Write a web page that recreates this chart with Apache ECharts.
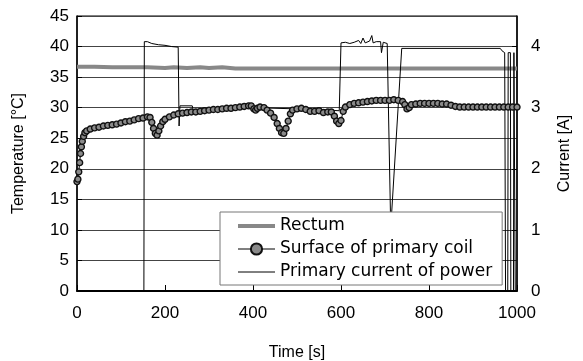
<!DOCTYPE html>
<html>
<head>
<meta charset="utf-8">
<script src="https://cdn.jsdelivr.net/npm/echarts@6/dist/echarts.min.js"></script>
<style>
  html, body { margin: 0; padding: 0; background: #fff; }
  #chart { width: 583px; height: 361px; }
</style>
</head>
<body>
<div id="chart"></div>
<script>
// 直腸温度 [s, °C]
const rectum = [
  [0, 36.7], [40, 36.7], [80, 36.6], [120, 36.6], [160, 36.6], [200, 36.5],
  [220, 36.6], [250, 36.5], [280, 36.6], [300, 36.5], [330, 36.6], [360, 36.4],
  [400, 36.4], [500, 36.4], [600, 36.4], [700, 36.4], [800, 36.4], [900, 36.4], [1000, 36.4]
]

// 一次コイル表面温度 [s, °C]
const coilTime = [
  0, 2, 4, 6, 8, 10, 12, 15, 18, 22, 30, 40, 50, 60, 70, 80, 90, 100, 110, 120,
  130, 140, 150, 160, 166, 170, 174, 178, 182, 186, 190, 195, 200, 210, 220, 230, 240, 250, 260, 270,
  280, 290, 300, 310, 320, 330, 340, 350, 360, 370, 380, 390, 396, 402, 406, 410, 416, 425, 432, 440,
  448, 455, 460, 465, 470, 475, 480, 485, 490, 500, 510, 520, 530, 540, 550, 560, 570, 578, 585, 590,
  595, 600, 605, 610, 620, 630, 640, 650, 660, 670, 680, 690, 700, 710, 720, 730, 740, 745, 750, 755,
  760, 770, 780, 790, 800, 810, 820, 830, 840, 850, 860, 870, 880, 890, 900, 910, 920, 930, 940, 950,
  960, 970, 980, 990, 1000
]
const coilTemp = [
  17.9, 18.3, 19.5, 21.0, 22.5, 23.6, 24.5, 25.3, 25.9, 26.2, 26.5, 26.7, 26.8, 27.0, 27.1, 27.2, 27.3, 27.5, 27.7, 27.8,
  28.0, 28.2, 28.3, 28.5, 28.4, 27.6, 26.6, 25.8, 25.5, 26.2, 27.0, 27.7, 28.1, 28.5, 28.8, 29.0, 29.1, 29.2, 29.3, 29.3,
  29.4, 29.5, 29.6, 29.7, 29.7, 29.8, 29.9, 29.9, 30.0, 30.1, 30.2, 30.3, 30.3, 29.8, 29.6, 29.9, 30.1, 30.0, 29.6, 29.1,
  28.4, 27.4, 26.6, 25.9, 25.8, 26.6, 27.8, 29.0, 29.6, 29.8, 29.9, 29.7, 29.4, 29.4, 29.5, 29.2, 29.3, 29.3, 28.6, 27.8,
  27.4, 27.9, 29.4, 30.1, 30.5, 30.7, 30.8, 30.9, 31.0, 31.1, 31.2, 31.2, 31.2, 31.2, 31.3, 31.2, 31.0, 30.5, 29.8, 30.0,
  30.5, 30.6, 30.7, 30.7, 30.7, 30.7, 30.7, 30.6, 30.6, 30.4, 30.2, 30.1, 30.1, 30.1, 30.1, 30.1, 30.1, 30.1, 30.1, 30.1,
  30.1, 30.1, 30.1, 30.1, 30.1
]

// 電源一次電流 [s, A]
const currentTime = [
  0, 152, 153, 160, 170, 185, 200, 215, 230, 232, 234, 262, 264, 300, 400, 500, 596,
  600, 610, 620, 630, 640, 645, 650, 655, 665, 670, 673, 680, 690, 692, 696, 700, 705,
  713, 738, 800, 900, 962, 966, 972, 974, 979, 980, 985, 986, 992, 993, 995, 996, 1000
]
const currentAmp = [
  0, 0, 4.08, 4.08, 4.05, 4.03, 4.02, 4.0, 3.99, 2.7, 3.03, 3.03, 2.96, 2.96, 3.0, 2.98, 2.95,
  4.06, 4.07, 4.05, 4.07, 4.1, 4.05, 4.14, 4.06, 4.09, 4.18, 4.06, 4.08, 4.08, 3.9, 4.07, 4.08, 4.05,
  1.03, 3.97, 3.97, 3.97, 3.97, 3.93, 3.9, 0, 0, 3.9, 3.9, 0, 0, 3.9, 3.9, 0, 0
]

const tempTicks = { min: 0, max: 45, interval: 5 }
const ampTicks = { min: 0, max: 4.5, interval: 1 }
const timeTicks = { min: 0, max: 1000, interval: 200 }

const coil = coilTime.map((t, i) => [t, coilTemp[i]])
const current = currentTime.map((t, i) => [t, currentAmp[i]])

const font = 'Liberation Sans'
const myChart = echarts.init(document.getElementById('chart'))

const option = {
  animation: false,
  textStyle: { fontFamily: font, color: '#000' },
  grid: {
    left: 77,
    right: 66,
    top: 16,
    bottom: 70,
    outerBoundsMode: 'none',
    show: true,
    borderColor: '#000',
    borderWidth: 1
  },
  legend: {
    orient: 'vertical',
    left: 220,
    top: 212,
    padding: [5, 10, 4, 16],
    itemGap: 5,
    itemWidth: 37,
    itemHeight: 14,
    backgroundColor: '#fff',
    borderColor: '#777',
    borderWidth: 1,
    textStyle: { fontFamily: 'DejaVu Sans', fontSize: 17, lineHeight: 18, color: '#000' },
    data: [
      // 凡例のマーカーを消して線だけ残す
      { name: 'Rectum', itemStyle: { opacity: 0 }, lineStyle: { width: 4, color: '#888' } },
      { name: 'Surface of primary coil', lineStyle: { width: 1, color: '#000' } },
      { name: 'Primary current of power', itemStyle: { opacity: 0 }, lineStyle: { width: 1, color: '#000' } }
    ]
  },
  xAxis: {
    type: 'value',
    ...timeTicks,
    name: 'Time [s]',
    nameLocation: 'middle',
    nameGap: 54,
    nameTextStyle: { fontSize: 16, fontFamily: font },
    axisLine: { lineStyle: { color: '#000', width: 2 } },
    axisTick: { inside: true, length: 6, lineStyle: { color: '#000' } },
    axisLabel: { fontSize: 17, margin: 14, color: '#000', formatter: v => String(v) },
    splitLine: { show: false }
  },
  yAxis: [
    {
      type: 'value',
      ...tempTicks,
      name: 'Temperature [°C]',
      nameLocation: 'middle',
      nameGap: 50,
      nameTextStyle: { fontSize: 16, fontFamily: font },
      axisLine: { lineStyle: { color: '#000', width: 1.5 } },
      axisTick: { inside: true, length: 5, lineStyle: { color: '#000' } },
      axisLabel: { fontSize: 17, margin: 8, color: '#000' },
      splitLine: { lineStyle: { color: '#444', width: 1 } }
    },
    {
      type: 'value',
      ...ampTicks,
      name: 'Current [A]',
      nameLocation: 'middle',
      nameRotate: 90,
      nameGap: 40,
      nameTextStyle: { fontSize: 16, fontFamily: font },
      axisLine: { show: true, lineStyle: { color: '#000', width: 1.5 } },
      axisTick: { show: true, inside: true, length: 5, lineStyle: { color: '#000' } },
      axisLabel: { fontSize: 17, margin: 14, color: '#000', showMaxLabel: false },
      splitLine: { show: false }
    }
  ],
  series: [
    {
      name: 'Rectum',
      type: 'line',
      yAxisIndex: 0,
      data: rectum,
      symbol: 'none',
      lineStyle: { color: '#888', width: 4 },
      itemStyle: { color: '#888' },
      z: 2
    },
    {
      name: 'Primary current of power',
      type: 'line',
      yAxisIndex: 1,
      data: current,
      symbol: 'none',
      lineStyle: { color: '#000', width: 1 },
      itemStyle: { color: '#000' },
      z: 3
    },
    {
      name: 'Surface of primary coil',
      type: 'line',
      yAxisIndex: 0,
      data: coil,
      symbol: 'circle',
      symbolSize: 6,
      lineStyle: { color: '#000', width: 1 },
      itemStyle: { color: '#8a8a8a', borderColor: '#111', borderWidth: 1.4 },
      z: 4
    }
  ]
}

myChart.setOption(option)
</script>
</body>
</html>
